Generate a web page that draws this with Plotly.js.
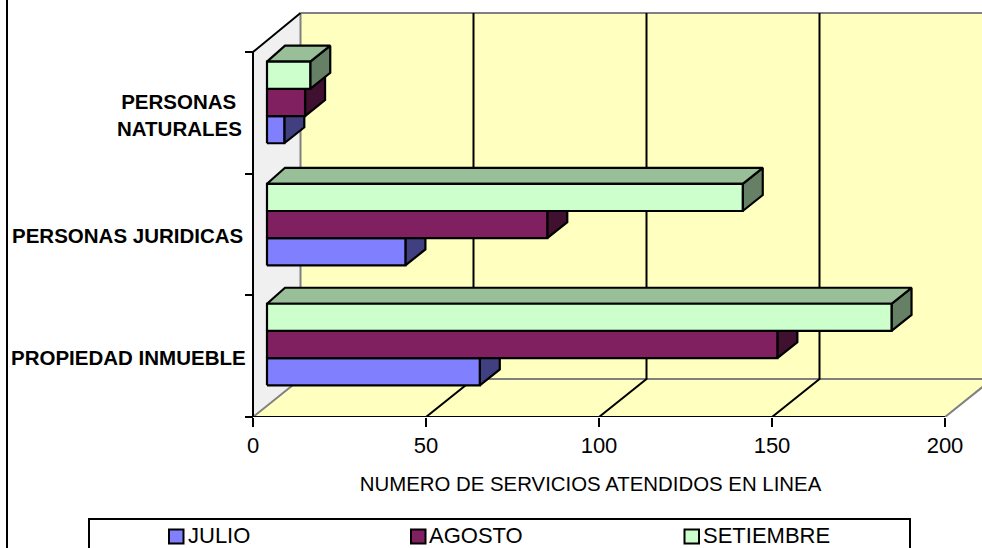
<!DOCTYPE html>
<html>
<head>
<meta charset="utf-8">
<script src="https://cdn.plot.ly/plotly-3.0.1.min.js"></script>
<style>html,body{margin:0;padding:0;background:#fff;overflow:hidden}#chart{width:982px;height:548px}</style>
</head>
<body>
<div id="chart"></div>
<script>
// Services attended online, by request type and month
const categories = ['PROPIEDAD INMUEBLE', 'PERSONAS JURIDICAS', 'PERSONAS\u00a0<br>NATURALES'];
const julio = [61.5, 40, 5];
const agosto = [147.5, 81, 11];
const setiembre = [180.5, 137.5, 12.5];
const seriesNames = ['JULIO', 'AGOSTO', 'SETIEMBRE'];
const xTicks = [0, 50, 100, 150, 200];
const yTicks = [0, 1, 2, 3];

const W = 982, H = 548;
const mL = 199, mB = 131;           // plot area margins
const unitX = 3.46, unitY = 121.67; // pixels per data unit on each axis
const xMin = -(253 - mL) / unitX, xMax = (W - 253) / unitX;
const yMax = (H - mB) / unitY;
const wallDX = 47.5 / unitX, wallDY = 38 / unitY; // depth of the chart box
const wallTop = (417 - 13) / unitY;               // upper edge of the back wall
const barDX = 20 / unitX, barDY = 16 / unitY;     // depth of each bar at its far end
const barDXStart = 18 / unitX;                    // depth of each bar at its start
const barX0 = 14 / unitX;                         // bars start in front of the side wall
const barH = 27.2 / unitY;
const barBase = [0.26, 1.246, 2.25];              // lower edge of each group

const colors = {
  front: ['#8080FF', '#802060', '#CCFFCC'],
  side: ['#404080', '#401030', '#668066'],
  top: ['#6060BF', '#601848', '#99BF99']
};
const wallColor = '#FFFFC0', sideWall = '#F0F0F0';

const poly = (xs, ys, fill, line, width) => ({
  x: xs.concat(xs[0]), y: ys.concat(ys[0]), mode: 'lines', fill: 'toself', fillcolor: fill,
  line: {color: line, width: width}, hoverinfo: 'skip', showlegend: false, cliponaxis: false
});
const seg = (xs, ys, color, width) => ({
  x: xs, y: ys, mode: 'lines', line: {color: color, width: width},
  hoverinfo: 'skip', showlegend: false, cliponaxis: false
});

const traces = [];
const farX = 200 + wallDX;
// back wall, floor and side wall
traces.push(poly([wallDX, farX, farX, wallDX], [wallDY, wallDY, wallTop, wallTop], wallColor, wallColor, 0));
traces.push(poly([0, 200, farX, wallDX], [0, 0, wallDY, wallDY], wallColor, wallColor, 0));
traces.push(poly([0, wallDX, wallDX, 0], [0, wallDY, wallTop, 3], sideWall, sideWall, 0));
traces.push(seg([wallDX, wallDX], [wallDY, wallTop], '#808080', 2));
traces.push(seg([wallDX, farX], [wallTop, wallTop], '#808080', 2));
traces.push(seg([wallDX, farX], [wallDY, wallDY], '#808080', 2));
traces.push(seg([0, wallDX], [0, wallDY], '#808080', 2));
traces.push(seg([200, farX], [0, wallDY], '#808080', 2));
// gridlines: up the back wall and across the floor
[50, 100, 150].forEach(v => {
  traces.push(seg([v, v + wallDX, v + wallDX], [0, wallDY, wallTop], '#000000', 2));
});
// axis lines on the front edges
traces.push(seg([0, 200], [0, 0], '#000000', 2));
traces.push(seg([0, 0, wallDX], [0, 3, wallTop], '#000000', 2));

// bars, lowest series first so the upper ones overlap its depth faces
[julio, agosto, setiembre].forEach((vals, s) => {
  vals.forEach((v, c) => {
    const y0 = barBase[c] + s * barH, y1 = y0 + barH, x1 = barX0 + v;
    traces.push(poly([x1, x1 + barDX, x1 + barDX, x1], [y0, y0 + barDY, y1 + barDY, y1], colors.side[s], '#000', 2.2));
    traces.push(poly([barX0, x1, x1 + barDX, barX0 + barDXStart], [y1, y1, y1 + barDY, y1 + barDY], colors.top[s], '#000', 2.2));
    traces.push(poly([barX0, x1, x1, barX0], [y0, y0, y1, y1], colors.front[s], '#000', 2.2));
  });
});

const font = 'Liberation Sans, Arial, sans-serif';
const paperX = v => (v - mL) / (W - mL);
const paperY = v => (H - mB - v) / (H - mB);

// frame edge and legend box, placed on the page rather than on the axes
const shapes = [
  {type: 'line', xref: 'paper', yref: 'paper', x0: paperX(7), x1: paperX(7), y0: paperY(0), y1: paperY(H), line: {color: '#000', width: 2}},
  {type: 'rect', xref: 'paper', yref: 'paper', x0: paperX(89), x1: paperX(910), y0: paperY(519), y1: paperY(H + 4), line: {color: '#000', width: 2}, fillcolor: '#fff'}
];
const swatchX = [169, 411, 684.5];
const labelX = [188, 429, 703];
const annotations = [];
seriesNames.forEach((name, s) => {
  shapes.push({type: 'rect', xref: 'paper', yref: 'paper', x0: paperX(swatchX[s]), x1: paperX(swatchX[s] + 14.5),
    y0: paperY(529.5), y1: paperY(543.5), line: {color: '#000', width: 2}, fillcolor: colors.front[s]});
  annotations.push({xref: 'paper', yref: 'paper', x: paperX(labelX[s]), y: paperY(535), xanchor: 'left', yanchor: 'middle',
    text: name, showarrow: false, font: {family: font, size: 22, color: '#000'}, borderpad: 0, borderwidth: 0});
});
// category labels beside the side wall
const catRight = [247, 244, 243];
const catY = [0.485, 1.49, 2.485];
categories.forEach((name, c) => {
  annotations.push({xref: 'x', yref: 'y', x: (catRight[c] - 253) / unitX, y: catY[c], xanchor: 'right', yanchor: 'middle', align: 'right',
    text: '<b>' + name + '</b>', showarrow: false, font: {family: font, size: 20.5, color: '#000'}, borderpad: 0});
});

const layout = {
  width: W, height: H, showlegend: false,
  margin: {l: mL, r: 0, t: 0, b: mB, pad: 0},
  paper_bgcolor: '#fff', plot_bgcolor: 'rgba(0,0,0,0)',
  xaxis: {
    range: [xMin, xMax], tickmode: 'array', tickvals: xTicks, ticktext: xTicks.map(String),
    ticks: 'outside', ticklen: 9, tickwidth: 2, tickcolor: '#000', showgrid: false, zeroline: false, showline: false,
    tickfont: {family: font, size: 22, color: '#000'}, fixedrange: true,
    title: {text: 'NUMERO DE SERVICIOS ATENDIDOS EN LINEA', font: {family: font, size: 20.4, color: '#000'}, standoff: 19}
  },
  yaxis: {
    range: [0, yMax], tickmode: 'array', tickvals: yTicks, ticktext: ['', '', '', ''],
    ticks: 'outside', ticklen: 8, tickwidth: 2, tickcolor: '#000', showgrid: false, zeroline: false, showline: false,
    anchor: 'free', position: (253 - mL) / (W - mL), fixedrange: true
  },
  shapes: shapes, annotations: annotations
};
Plotly.newPlot('chart', traces, layout, {displayModeBar: false, staticPlot: true});
</script>
</body>
</html>
